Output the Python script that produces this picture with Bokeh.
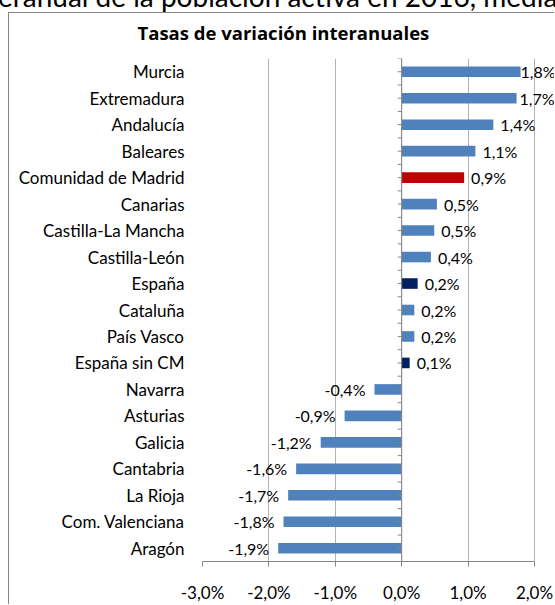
from bokeh.plotting import figure
from bokeh.layouts import column
from bokeh.models import (ColumnDataSource, Range1d, FixedTicker, LabelSet, Span,
                          Title, Div)
from bokeh.core.properties import value
from bokeh.embed import file_html
from bokeh.resources import INLINE

# ---- data ----
regions = ["Murcia", "Extremadura", "Andalucía", "Baleares", "Comunidad de Madrid",
           "Canarias", "Castilla-La Mancha", "Castilla-León", "España", "Cataluña",
           "País Vasco", "España sin CM", "Navarra", "Asturias", "Galicia",
           "Cantabria", "La Rioja", "Com. Valenciana", "Aragón"]
rates = [1.79, 1.73, 1.38, 1.11, 0.94, 0.53, 0.49, 0.44, 0.24, 0.19, 0.19, 0.12,
         -0.41, -0.86, -1.22, -1.59, -1.71, -1.78, -1.86]
x_ticks = [-3, -2, -1, 0, 1, 2]
chart_title = "Tasas de variación interanuales"
page_title = "eranual de la población activa en 2016, media"

BLUE = "#4F81BD"
special_colors = {"Comunidad de Madrid": "#C00000", "España": "#002060",
                  "España sin CM": "#002060"}
FONT = "Lato"
n = len(regions)

# geometry: canvas 546 wide, frame from 193 px; 66.4 px per percentage point
FRAME_LEFT = 193
CANVAS_W = 546
PX_PER_UNIT = 66.4
x_end = x_ticks[0] + (CANVAS_W - FRAME_LEFT) / PX_PER_UNIT

ypos = [n - 1 - i for i in range(n)]
colors = [special_colors.get(r, BLUE) for r in regions]
texts = [f"{v:.1f}".replace(".", ",") + "%" for v in rates]

# outside-end labels: keep positive labels inside the chart area like the original
LABEL_W = 36
pos_idx = [i for i, v in enumerate(rates) if v >= 0]
neg_idx = [i for i, v in enumerate(rates) if v < 0]
pos_off = [min(7, max(0, (x_end - rates[i]) * PX_PER_UNIT - LABEL_W)) for i in pos_idx]

src = ColumnDataSource(dict(y=ypos, v=rates, c=colors))
pos_src = ColumnDataSource(dict(y=[ypos[i] for i in pos_idx], v=[rates[i] for i in pos_idx],
                                t=[texts[i] for i in pos_idx], off=pos_off))
neg_src = ColumnDataSource(dict(y=[ypos[i] for i in neg_idx], v=[rates[i] for i in neg_idx],
                                t=[texts[i] for i in neg_idx]))

p = figure(width=CANVAS_W, height=592, output_backend="svg", toolbar_location=None,
           x_range=Range1d(x_ticks[0], x_end), y_range=Range1d(-0.5, n - 0.5),
           min_border_left=FRAME_LEFT, min_border_right=0, min_border_top=45,
           min_border_bottom=42, margin=(0, 0, 0, 8),
           styles={"border-left": "1px solid #868686", "border-top": "1px solid #868686"})
p.outline_line_color = None
p.background_fill_color = "white"
p.border_fill_color = "white"

p.hbar(y="y", right="v", left=0, height=0.4, fill_color="c", line_color=None, source=src)

# axes
p.xaxis.ticker = FixedTicker(ticks=x_ticks)
p.xaxis.bounds = (x_ticks[0], x_ticks[-1])
p.xaxis.major_label_overrides = {t: f"{t:.1f}".replace(".", ",") + "%" for t in x_ticks}
p.xaxis.axis_line_color = "#868686"
p.xaxis.major_tick_line_color = "#868686"
p.xaxis.major_tick_out = 5
p.xaxis.major_tick_in = 0
p.xaxis.minor_tick_line_color = None
p.xaxis.major_label_standoff = 15
p.xaxis.major_label_text_font = FONT
p.xaxis.major_label_text_font_size = "17px"
p.xaxis.major_label_text_color = "#000000"

p.yaxis.ticker = FixedTicker(ticks=ypos)
p.yaxis.major_label_overrides = {y: r for y, r in zip(ypos, regions)}
p.yaxis.axis_line_color = None
p.yaxis.major_tick_line_color = None
p.yaxis.minor_tick_line_color = None
p.yaxis.major_tick_out = 0
p.yaxis.major_label_standoff = 18
p.yaxis.major_label_text_font = FONT
p.yaxis.major_label_text_font_size = "17px"
p.yaxis.major_label_text_color = "#000000"

p.xgrid.ticker = FixedTicker(ticks=x_ticks)
p.xgrid.grid_line_color = "#B3B3B3"
p.ygrid.grid_line_color = None

# zero axis with small ticks
p.add_layout(Span(location=0, dimension="height", line_color="#868686", line_width=1))
half = [k * 0.5 - 0.5 for k in range(2 * n + 1)]
p.segment(x0=[-0.06] * len(half), x1=[0] * len(half), y0=half, y1=half,
          line_color="#868686", line_width=1)

# data labels
p.add_layout(LabelSet(x="v", y="y", text="t", source=pos_src, x_offset="off",
                      text_align="left", text_baseline="middle", text_font=value(FONT),
                      text_font_size="16px", text_color="#000000"))
p.add_layout(LabelSet(x="v", y="y", text="t", source=neg_src, x_offset=-9,
                      text_align="right", text_baseline="middle", text_font=value(FONT),
                      text_font_size="16px", text_color="#000000"))

# spacer (nearest the frame) then chart title above it
p.add_layout(Title(text=" ", text_font_size="1px", standoff=10), "above")
p.add_layout(Title(text=chart_title, align="left", offset=-65, standoff=0,
                   vertical_align="middle",
                   text_font="Open Sans", text_font_size="18.5px", text_font_style="bold",
                   text_color="#000000"), "above")

head = Div(text=('<div style="position:absolute; left:-2px; top:-20px; '
                 'font-family:Lato; font-size:28px; line-height:32px; '
                 'white-space:nowrap; color:#000;">' + page_title + '</div>'),
           width=555, height=12, margin=(0, 0, 0, 0), styles={"overflow": "visible"})

layout = column(head, p, spacing=0)
open("out.html", "w").write(file_html(layout, INLINE))
